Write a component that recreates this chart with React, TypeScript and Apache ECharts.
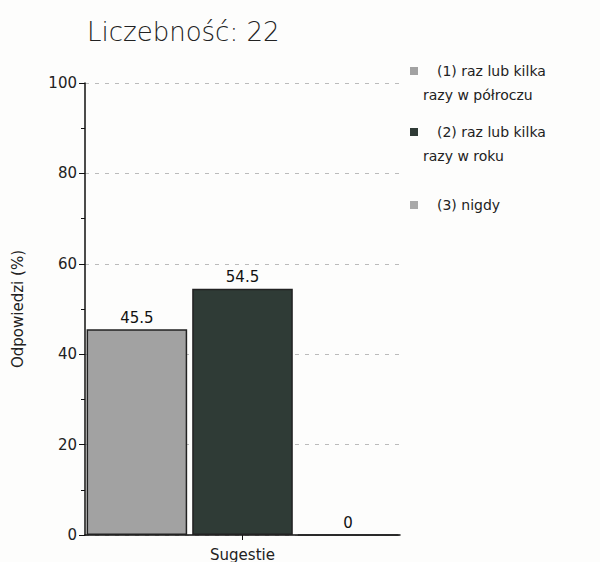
import React, { useEffect, useRef } from "react";
import * as echarts from "echarts";

const titleText = "Liczebność: 22";
const categories = ["Sugestie"];
const seriesNames = [
  "(1) raz lub kilka\nrazy w półroczu",
  "(2) raz lub kilka\nrazy w roku",
  "(3) nigdy",
];
const seriesValues = [[45.5], [54.5], [0]];
const seriesColors = ["#a2a2a2", "#2f3b36", "#a9a9a9"];
const yTicks = [0, 20, 40, 60, 80, 100];

// icon bounding box 8x48: square next to the first text line (two-line items) or centered (one-line item)
const iconTop = "path://M0,8L8,8L8,16L0,16Z M0,0L0,48";
const iconMid = "path://M0,20L8,20L8,28L0,28Z M0,0L0,48";

export default function App() {
  const ref = useRef<HTMLDivElement>(null);
  useEffect(() => {
    document.body.style.margin = "0";
    const chart = echarts.init(ref.current!, null, { renderer: "svg" });
    const font = "DejaVu Sans";
    chart.setOption({
      animation: false,
      backgroundColor: "#fdfdfc",
      title: {
        text: titleText,
        left: 82,
        top: 14,
        textStyle: { fontFamily: font, fontSize: 26, fontWeight: 200, color: "#222" },
      },
      legend: {
        orient: "vertical",
        left: 405,
        top: 54,
        itemWidth: 8,
        itemHeight: 48,
        itemGap: 13,
        itemStyle: { borderWidth: 0 },
        formatter: (name: string) => {
          const parts = name.split("\n");
          return parts.map((p, k) => (k === 0 ? "{a|" + p + "}" : "{b|" + p + "}")).join("\n");
        },
        textStyle: {
          fontFamily: font,
          fontSize: 14,
          color: "#222",
          rich: {
            a: { fontFamily: font, fontSize: 14, color: "#222", lineHeight: 24, padding: [0, 0, 0, 14] },
            b: { fontFamily: font, fontSize: 14, color: "#222", lineHeight: 24 },
          },
        },
        data: seriesNames.map((name) => ({
          name,
          icon: name.indexOf("\n") >= 0 ? iconTop : iconMid,
        })),
      },
      grid: { left: 85, right: 200, top: 83, bottom: 27, containLabel: false },
      xAxis: {
        type: "category",
        data: categories,
        axisLine: { lineStyle: { color: "#111", width: 1.5 } },
        axisTick: { show: true, alignWithLabel: true, length: 5, lineStyle: { color: "#111" } },
        axisLabel: { fontFamily: font, fontSize: 15, color: "#222", margin: 12 },
      },
      yAxis: {
        type: "value",
        min: yTicks[0],
        max: yTicks[yTicks.length - 1],
        interval: 20,
        name: "Odpowiedzi (%)",
        nameLocation: "middle",
        nameGap: 60,
        nameTextStyle: { fontFamily: font, fontSize: 15, color: "#222" },
        axisLine: { show: true, lineStyle: { color: "#111", width: 1.5 } },
        axisTick: { show: true, length: 6, lineStyle: { color: "#111" } },
        minorTick: { show: true, splitNumber: 2, length: 4, lineStyle: { color: "#111" } },
        axisLabel: { fontFamily: font, fontSize: 15, color: "#222", margin: 8 },
        splitLine: { show: true, lineStyle: { color: "#bbb", type: [4, 6] } },
      },
      series: seriesNames.map((name, i) => ({
        name,
        type: "bar",
        data: seriesValues[i],
        barGap: "5%",
        barCategoryGap: "1%",
        itemStyle: { color: seriesColors[i], borderColor: "#222", borderWidth: 1.5 },
        label: {
          show: true,
          position: "top",
          distance: 4,
          fontFamily: font,
          fontSize: 15,
          color: "#111",
        },
      })),
    });
    return () => chart.dispose();
  }, []);
  return <div ref={ref} style={{ width: 600, height: 562 }} />;
}
